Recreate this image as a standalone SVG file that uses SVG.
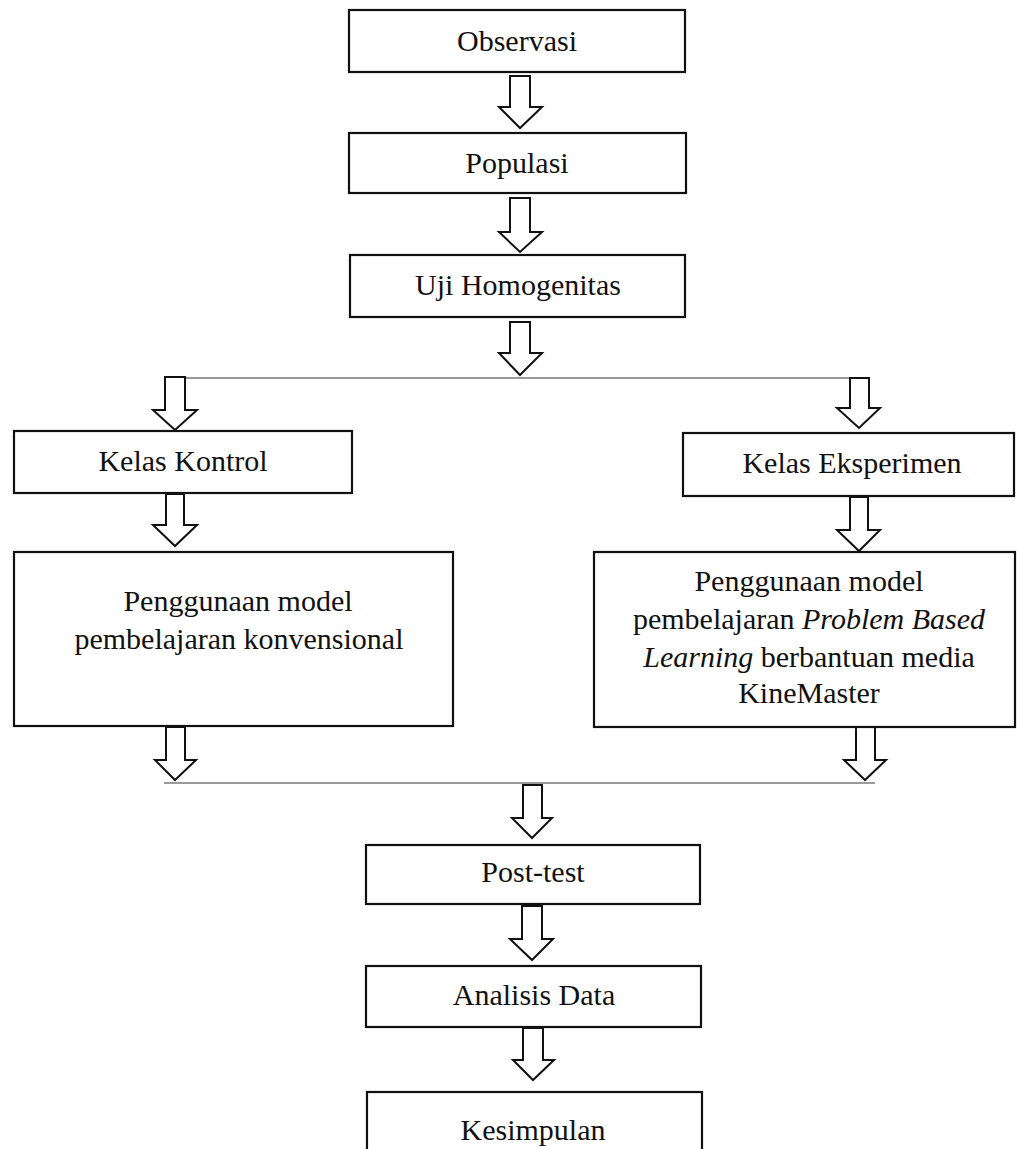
<svg xmlns="http://www.w3.org/2000/svg" width="1018" height="1149" viewBox="0 0 1018 1149">
<style>
.box{fill:#fff;stroke:#111;stroke-width:2.2}
.arr{fill:#fff;stroke:#111;stroke-width:2;stroke-linejoin:miter}
.hl{stroke:#999;stroke-width:2;fill:none}
.t{font-family:"Liberation Serif","Times New Roman",serif;font-size:30px;fill:#111;text-anchor:middle}
.i{font-style:italic}
</style>
<rect width="1018" height="1149" fill="#fff"/>
<g id="connectors">
<line class="hl" x1="184" y1="378" x2="851" y2="378"/>
<line class="hl" x1="164" y1="783" x2="875" y2="783"/>
<path class="arr" d="M510,76 H530 V107 H542 L520,128 L499,107 H510 Z"/>
<path class="arr" d="M510,198 H530 V232 H542 L520,252 L499,232 H510 Z"/>
<path class="arr" d="M510,322 H530 V353 H542 L520,375 L499,353 H510 Z"/>
<path class="arr" d="M165,377 H185 V410 H197 L175,430 L153,410 H165 Z"/>
<path class="arr" d="M850,378 H869 V408 H880 L859,428 L837,408 H850 Z"/>
<path class="arr" d="M166,494 H184 V525 H197 L175,546 L153,525 H166 Z"/>
<path class="arr" d="M850,497 H868 V530 H880 L859,551 L837,530 H850 Z"/>
<path class="arr" d="M166,727 H185 V760 H196 L175,780 L155,760 H166 Z"/>
<path class="arr" d="M856,727 H875 V760 H886 L865,780 L844,760 H856 Z"/>
<path class="arr" d="M523,785 H542 V818 H552 L532,838 L512,818 H523 Z"/>
<path class="arr" d="M522,906 H542 V939 H553 L532,960 L510,939 H522 Z"/>
<path class="arr" d="M523,1028 H543 V1060 H554 L533,1080 L513,1060 H523 Z"/>
</g>
<g id="observasi"><rect class="box" x="349" y="10" width="336" height="62"/><text class="t" x="517" y="51">Observasi</text></g>
<g id="populasi"><rect class="box" x="349" y="133" width="337" height="60"/><text class="t" x="517" y="173">Populasi</text></g>
<g id="uji"><rect class="box" x="350" y="255" width="335" height="62"/><text class="t" x="518" y="295">Uji Homogenitas</text></g>
<g id="kontrol"><rect class="box" x="14" y="431" width="338" height="62"/><text class="t" x="183" y="471">Kelas Kontrol</text></g>
<g id="eksperimen"><rect class="box" x="683" y="433" width="331" height="63"/><text class="t" x="852" y="473">Kelas Eksperimen</text></g>
<g id="konvensional"><rect class="box" x="14" y="552" width="439" height="174"/><text class="t" x="238" y="611">Penggunaan model</text><text class="t" x="239" y="649">pembelajaran konvensional</text></g>
<g id="pbl"><rect class="box" x="594" y="552" width="421" height="175"/><text class="t" x="809" y="591">Penggunaan model</text><text class="t" x="809" y="629">pembelajaran <tspan class="i">Problem Based</tspan></text><text class="t" x="809" y="667"><tspan class="i">Learning</tspan> berbantuan media</text><text class="t" x="809" y="703">KineMaster</text></g>
<g id="posttest"><rect class="box" x="366" y="845" width="334" height="59"/><text class="t" x="533" y="882">Post-test</text></g>
<g id="analisis"><rect class="box" x="366" y="966" width="335" height="61"/><text class="t" x="534" y="1005">Analisis Data</text></g>
<g id="kesimpulan"><rect class="box" x="367" y="1092" width="335" height="70"/><text class="t" x="533" y="1140">Kesimpulan</text></g>
</svg>
